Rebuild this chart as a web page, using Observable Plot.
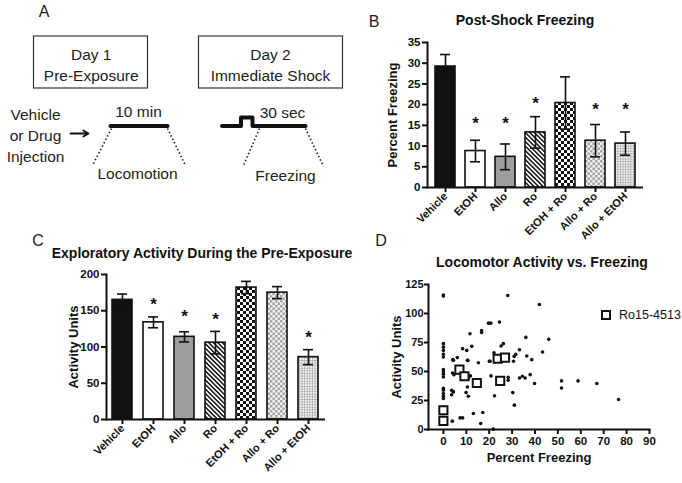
<!DOCTYPE html>
<html><head><meta charset="utf-8">
<script src="https://cdn.jsdelivr.net/npm/d3@7"></script>
<script src="https://cdn.jsdelivr.net/npm/@observablehq/plot@0.6"></script>
<style>
body{margin:0;background:#fff;}
#wrap{position:relative;width:682px;height:483px;overflow:hidden;font-family:"Liberation Sans",Arial,sans-serif;color:#111;background:#fff;}
.p{position:absolute;}
.letter{position:absolute;font-size:16px;line-height:16px;transform:translate(-50%,-50%);color:#222;}
.ttl{position:absolute;font-weight:bold;font-size:14px;line-height:14px;transform:translate(-50%,-50%);white-space:nowrap;}
.leg{position:absolute;font-size:12.5px;line-height:13px;transform:translateY(-50%);white-space:nowrap;}
.legsq{position:absolute;width:6px;height:6px;border:2px solid #111;background:#fff;}
</style></head><body>
<svg width="0" height="0" style="position:absolute">
<defs>
<pattern id="pRo" patternUnits="userSpaceOnUse" width="3.2" height="3.2" patternTransform="rotate(-45)">
<rect width="3.2" height="3.2" fill="#fff"/><rect width="1.5" height="3.2" fill="#111"/></pattern>
<pattern id="pChk" patternUnits="userSpaceOnUse" width="6" height="6">
<rect width="6" height="6" fill="#fff"/><rect width="3" height="3" fill="#111"/><rect x="3" y="3" width="3" height="3" fill="#111"/></pattern>
<pattern id="pGchk" patternUnits="userSpaceOnUse" width="5" height="5">
<rect width="5" height="5" fill="#f2f2f2"/><rect width="2.5" height="2.5" fill="#a6a6a6"/><rect x="2.5" y="2.5" width="2.5" height="2.5" fill="#a6a6a6"/></pattern>
<pattern id="pGrid" patternUnits="userSpaceOnUse" width="2.6" height="2.6">
<rect width="2.6" height="2.6" fill="#f4f4f4"/><rect width="2.6" height="0.8" fill="#b0b0b0"/><rect width="0.8" height="2.6" fill="#b0b0b0"/></pattern>
</defs></svg>
<div id="wrap">
  <div id="pa" class="p" style="left:0;top:0"></div>
  <div id="pb" class="p" style="left:360px;top:0"></div>
  <div id="pc" class="p" style="left:0;top:230px"></div>
  <div id="pd" class="p" style="left:360px;top:250px"></div>
  <div class="letter" style="left:44px;top:12px">A</div>
  <div class="letter" style="left:374px;top:22px">B</div>
  <div class="letter" style="left:38px;top:241px">C</div>
  <div class="letter" style="left:381px;top:241px">D</div>
  <div class="ttl" style="left:525px;top:20px">Post-Shock Freezing</div>
  <div class="ttl" style="left:202px;top:253px">Exploratory Activity During the Pre-Exposure</div>
  <div class="ttl" style="left:542px;top:262px">Locomotor Activity vs. Freezing</div>
  <div class="legsq" style="left:601px;top:310px"></div>
  <div class="leg" style="left:619px;top:315px">Ro15-4513</div>
</div>
<script>
// ---------- data ----------
const cats = ["Vehicle", "EtOH", "Allo", "Ro", "EtOH + Ro", "Allo + Ro", "Allo + EtOH"];
const barFills = ["#111", "#fff", "#9e9e9e", "url(#pRo)", "url(#pChk)", "url(#pGchk)", "url(#pGrid)"];

const freezeMean = [29.2, 8.8, 7.4, 13.3, 20.4, 11.3, 10.6];
const freezeErr  = [2.9, 2.6, 3.1, 3.8, 6.3, 3.9, 2.8];
const freezeStar = [null, 16.5, 16.5, 21.3, null, 19.9, 19.9];
const freezeTicks = [0, 5, 10, 15, 20, 25, 30, 35];

const actMean = [165, 134, 114, 106, 182, 175, 86];
const actErr  = [8, 7.5, 7, 15.5, 8.5, 8.3, 10.3];
const actStar = [null, 164.6, 147, 143, null, null, 118.6];
const actTicks = [0, 50, 100, 150, 200];

// scatter (Percent Freezing, Activity Units)
const dotX = [0,0,28.1,41.9,19.7,20.7,24.5,11.6,16.7,16.7,36,46,
  0,0,0,0,0,12.4,8.4,10.2,26.2,25.2,33.2,43.3,
  6.1,4.1,22.1,30.9,36.4,38.6,15.3,10.5,20.4,30.6,
  0,0,0,0,4,20.8,11.8,15.7,28.3,28.3,33.2,34.5,35.7,37.9,39.8,51.6,51.6,58.8,67,76.5,
  0,0,0,0,0,3.6,4.4,3.6,9.9,10.9,22.3,30.3,31,13.1,17.2,7.3,8.4,3.9,16.3,21.8,
  4.6,4.1,10.9,10.5,20.1,31.6,4.4,10.7];
const dotY = [116,115,115.5,107.8,91.7,91.7,92.6,82.6,85.4,83.7,79.4,77.7,
  74,71,68,64.8,62.5,71.7,69.7,68.2,74,72,68.8,66.8,
  62,60.2,66.2,63,63.4,60.2,57.6,59.6,58.8,58.8,
  51.6,49.6,47.6,45.3,48.7,46.2,46.2,41.9,45,42.4,44.4,45.9,44.4,47.3,39.6,41.9,35.8,41.9,39.6,25.8,
  35.6,33.8,31,28.7,26.7,33.8,32.4,30,31.8,28.7,29,31.8,21,13.8,14.6,10,10,7.2,5.2,0.3,
  47.3,33,43.9,36.7,58.8,64.8,59.6,59.6];
const roX = [0, 0, 7, 9.2, 14.6, 23.7, 26.9, 24.8];
const roY = [16.6, 7.5, 51.6, 45.9, 40.1, 61, 61.9, 41.9];
const dTicksX = [0,10,20,30,40,50,60,70,80,90];
const dTicksY = [0,25,50,75,100,125];

// schematic (panel A), in pixel units of the panel
const boxes = [{x1:33.5,x2:147.5,y1:36,y2:88},{x1:198.5,x2:342.5,y1:36,y2:88}];
const schemaText = [
  {x:90.7,y:55,t:"Day 1"},{x:90.7,y:76,t:"Pre-Exposure"},
  {x:270,y:55,t:"Day 2"},{x:270,y:76,t:"Immediate Shock"},
  {x:35,y:115,t:"Vehicle"},{x:35,y:136,t:"or Drug"},{x:35,y:157,t:"Injection"},
  {x:138,y:112,t:"10 min"},{x:137,y:174,t:"Locomotion"},
  {x:282,y:113,t:"30 sec"},{x:285,y:176,t:"Freezing"}
];
const thickLines = [
  {g:1,x:110,y:125.5},{g:1,x:167,y:125.5},
  {g:2,x:221.5,y:125.5},{g:2,x:240.5,y:125.5},{g:2,x:240.5,y:117},{g:2,x:252,y:117},{g:2,x:252,y:125.5},{g:2,x:305,y:125.5}
];
const dottedLines = [
  {x1:111,y1:128,x2:92.5,y2:164},{x1:167,y1:128,x2:185,y2:165},
  {x1:259,y1:128,x2:243,y2:165},{x1:305,y1:128,x2:323,y2:166}
];
const arrows = [{x1:70,y1:133,x2:88,y2:133}];

// ---------- panel A ----------
document.getElementById("pa").append(Plot.plot({
  width:360, height:200, margin:0,
  style:{fontFamily:"Liberation Sans, Arial, sans-serif", background:"transparent"},
  x:{domain:[0,360], range:[0,360], axis:null},
  y:{domain:[0,200], range:[0,200], axis:null},
  marks:[
    Plot.rect(boxes,{x1:"x1",x2:"x2",y1:"y1",y2:"y2",fill:"none",stroke:"#333",strokeWidth:1.2}),
    Plot.line(thickLines,{x:"x",y:"y",z:"g",stroke:"#111",strokeWidth:4,strokeLinejoin:"round"}),
    Plot.link(dottedLines,{x1:"x1",y1:"y1",x2:"x2",y2:"y2",stroke:"#111",strokeWidth:1.6,strokeDasharray:"1.4,2.4"}),
    Plot.arrow(arrows,{x1:"x1",y1:"y1",x2:"x2",y2:"y2",stroke:"#111",strokeWidth:1.8,headLength:7}),
    Plot.text(schemaText,{x:"x",y:"y",text:"t",fontSize:15.5,fill:"#222"})
  ]
}));

// ---------- bar panel helper ----------
function axisLabelStyle(svg){
  svg.querySelectorAll('[aria-label$="axis label"] text').forEach(t => t.style.fontSize = "13px");
}
function barPanel(el, means, errs, stars, ticks, ymax, label, opts){
  const rows = cats.map((c,i)=>({cat:c, mean:means[i], lo:means[i]-errs[i], hi:means[i]+errs[i], star:stars[i], fill:barFills[i]}));
  const sw = 1.6;
  const svg = Plot.plot({
    width:opts.width, height:opts.height,
    marginLeft:opts.ml, marginRight:opts.mr, marginTop:opts.mt, marginBottom:opts.mb,
    style:{fontFamily:"Liberation Sans, Arial, sans-serif", fontWeight:"bold", fontSize:"11px", color:"#111", background:"transparent"},
    x:{domain:cats, paddingInner:0.34, paddingOuter:0.17},
    y:{domain:[0,ymax]},
    color:{type:"identity"},
    marks:[
      Plot.barY(rows,{x:"cat",y:"mean",fill:"fill",stroke:"#111",strokeWidth:sw}),
      Plot.ruleX(rows,{x:"cat",y1:"lo",y2:"hi",stroke:"#111",strokeWidth:sw}),
      Plot.tickY(rows,{x:"cat",y:"hi",stroke:"#111",strokeWidth:sw,insetLeft:5,insetRight:5}),
      Plot.tickY(rows,{x:"cat",y:"lo",stroke:"#111",strokeWidth:sw,insetLeft:5,insetRight:5}),
      Plot.text(rows.filter(d=>d.star!=null),{x:"cat",y:"star",text:()=>"*",fontSize:17,dy:4,fill:"#111"}),
      Plot.frame({anchor:"left",stroke:"#111",strokeWidth:2}),
      Plot.ruleY([0],{stroke:"#111",strokeWidth:2}),
      Plot.axisY({ticks:ticks, tickSize:5, strokeWidth:2, tickPadding:2, fontSize:11.5,
        label:label, labelAnchor:"center", labelOffset:opts.lo, labelArrow:false}),
      Plot.axisX({tickSize:5, strokeWidth:2, tickRotate:-45, tickPadding:2, fontSize:11, label:null})
    ]
  });
  axisLabelStyle(svg);
  document.getElementById(el).append(svg);
}
barPanel("pb", freezeMean, freezeErr, freezeStar, freezeTicks, 35, "Percent Freezing",
  {width:322, height:240, ml:67, mr:39, mt:42, mb:53, lo:40});
barPanel("pc", actMean, actErr, actStar, actTicks, 200, "Activity Units",
  {width:360, height:253, ml:106, mr:35, mt:44, mb:64, lo:38});

// ---------- panel D ----------
const dots = dotX.map((x,i)=>({x, y:dotY[i]}));
const ro = roX.map((x,i)=>({x, y:roY[i]}));
const svgD = Plot.plot({
  width:322, height:233, marginLeft:68, marginRight:33, marginTop:34, marginBottom:54,
  style:{fontFamily:"Liberation Sans, Arial, sans-serif", fontWeight:"bold", fontSize:"11px", color:"#111", background:"transparent"},
  x:{domain:[-6.5,90]},
  y:{domain:[0,125]},
  marks:[
    Plot.dot(dots,{x:"x",y:"y",r:1.8,fill:"#111",stroke:null}),
    Plot.dot(ro,{x:"x",y:"y",symbol:"square",r:4.6,fill:"#fff",stroke:"#111",strokeWidth:2}),
    Plot.frame({anchor:"left",stroke:"#111",strokeWidth:2}),
    Plot.frame({anchor:"bottom",stroke:"#111",strokeWidth:2}),
    Plot.axisY({ticks:dTicksY, tickSize:4, strokeWidth:2, tickPadding:1, fontSize:11,
      label:"Activity Units", labelAnchor:"center", labelOffset:37, labelArrow:false}),
    Plot.axisX({ticks:dTicksX, tickSize:5, strokeWidth:2, tickPadding:2, fontSize:11.5,
      label:"Percent Freezing", labelAnchor:"center", labelOffset:32, labelArrow:false})
  ]
});
axisLabelStyle(svgD);
document.getElementById("pd").append(svgD);
</script>
</body></html>
